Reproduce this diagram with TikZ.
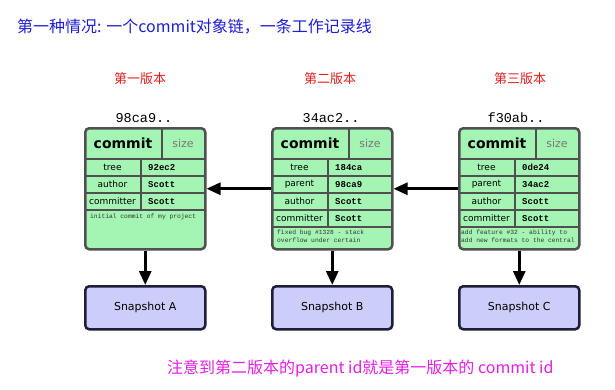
\documentclass[tikz,border=0pt]{standalone}
\usepackage{fontspec}
\newfontfamily\cjk{Noto Sans CJK SC}
\newfontfamily\dv{DejaVu Sans}
\newfontfamily\mono{Liberation Mono}
\usetikzlibrary{arrows.meta}
\definecolor{cgreen}{RGB}{164,245,180}
\definecolor{cborder}{RGB}{80,80,80}
\definecolor{sfill}{RGB}{205,205,250}
\definecolor{sborder}{RGB}{30,30,60}
\definecolor{tblue}{RGB}{30,30,215}
\definecolor{tred}{RGB}{225,30,30}
\definecolor{tmag}{RGB}{230,30,230}
\definecolor{sizegray}{RGB}{120,120,120}
\tikzset{
  commitbox/.style={draw=cborder, fill=cgreen, line width=2.5pt, rounded corners=4pt,
    minimum width=120pt, minimum height=121pt, anchor=north west, inner sep=0pt},
  inner/.style={draw=cborder, line width=1.5pt},
  ctitle/.style={font=\dv\bfseries\fontsize{14}{15}\selectfont, inner sep=0pt},
  csize/.style={font=\dv\fontsize{11}{12}\selectfont, text=sizegray, inner sep=0pt},
  fname/.style={font=\dv\fontsize{9}{10}\selectfont, inner sep=0pt},
  fval/.style={font=\mono\bfseries\fontsize{9}{10}\selectfont, anchor=west, inner sep=0pt},
  msg/.style={font=\mono\fontsize{6.3}{7}\selectfont, anchor=west, inner sep=0pt, text=black!80},
  snapbox/.style={draw=sborder, fill=sfill, line width=2.5pt, rounded corners=4pt,
    minimum width=120pt, minimum height=43pt, anchor=north west, inner sep=0pt},
  snaplabel/.style={font=\dv\fontsize{11}{12}\selectfont, inner sep=0pt},
  hashlabel/.style={font=\mono\fontsize{13.5}{14}\selectfont, inner sep=0pt},
  verlabel/.style={font=\cjk\fontsize{13}{14}\selectfont, text=tred, inner sep=0pt},
  arr/.style={line width=2.8pt, -{Triangle[length=14pt,width=12pt]}},
}
\begin{document}
\begin{tikzpicture}[x=1pt,y=-1pt]
\fill[white] (0,0) rectangle (615,389);
\useasboundingbox (0,0) rectangle (615,389);

% title
\node[font=\cjk\fontsize{16}{18}\selectfont, text=tblue, anchor=west, inner sep=0pt] (title) at (17,27) {第一种情况: 一个commit对象链，一条工作记录线};

% version labels
\node[verlabel] (v1) at (140,79) {第一版本};
\node[verlabel] (v2) at (330,79) {第二版本};
\node[verlabel] (v3) at (520,79) {第三版本};

% hashes
\node[hashlabel] (h1) at (144,118) {98ca9..};
\node[hashlabel] (h2) at (331,118) {34ac2..};
\node[hashlabel] (h3) at (516,118) {f30ab..};

% commit A
\begin{scope}[shift={(84,127)}]
\node[commitbox] (cA) at (0,0) {};
\draw[inner] (0,32) -- (120,32);
\draw[inner] (78,0) -- (78,32);
\draw[inner] (0,49) -- (120,49);
\draw[inner] (0,66) -- (120,66);
\draw[inner] (0,83) -- (120,83);
\draw[inner] (57,32) -- (57,83);
\node[ctitle] (cAt) at (39,16) {commit};
\node[csize] (cAs) at (99,16) {size};
\node[fname] (cAf1) at (28.5,40.5) {tree};
\node[fname] (cAf2) at (28.5,57.5) {author};
\node[fname] (cAf3) at (28.5,74.5) {committer};
\node[fval] (cAv1) at (64,40.5) {92ec2};
\node[fval] (cAv2) at (64,57.5) {Scott};
\node[fval] (cAv3) at (64,74.5) {Scott};
\node[msg] (cAm) at (6,90) {initial commit of my project};
\end{scope}

% commit B
\begin{scope}[shift={(271,127)}]
\node[commitbox] (cB) at (0,0) {};
\draw[inner] (0,32) -- (120,32);
\draw[inner] (78,0) -- (78,32);
\draw[inner] (0,49) -- (120,49);
\draw[inner] (0,66) -- (120,66);
\draw[inner] (0,83) -- (120,83);
\draw[inner] (0,100) -- (120,100);
\draw[inner] (57,32) -- (57,100);
\node[ctitle] (cBt) at (39,16) {commit};
\node[csize] (cBs) at (99,16) {size};
\node[fname] (cBf1) at (28.5,40.5) {tree};
\node[fname] (cBf2) at (28.5,57.5) {parent};
\node[fname] (cBf3) at (28.5,74.5) {author};
\node[fname] (cBf4) at (28.5,91.5) {committer};
\node[fval] (cBv1) at (64,40.5) {184ca};
\node[fval] (cBv2) at (64,57.5) {98ca9};
\node[fval] (cBv3) at (64,74.5) {Scott};
\node[fval] (cBv4) at (64,91.5) {Scott};
\node[msg] (cBm1) at (6,105.5) {fixed bug \#1328 - stack};
\node[msg] (cBm2) at (6,113.5) {overflow under certain};
\end{scope}

% commit C
\begin{scope}[shift={(458,127)}]
\node[commitbox] (cC) at (0,0) {};
\draw[inner] (0,32) -- (120,32);
\draw[inner] (78,0) -- (78,32);
\draw[inner] (0,49) -- (120,49);
\draw[inner] (0,66) -- (120,66);
\draw[inner] (0,83) -- (120,83);
\draw[inner] (0,100) -- (120,100);
\draw[inner] (57,32) -- (57,100);
\node[ctitle] (cCt) at (39,16) {commit};
\node[csize] (cCs) at (99,16) {size};
\node[fname] (cCf1) at (28.5,40.5) {tree};
\node[fname] (cCf2) at (28.5,57.5) {parent};
\node[fname] (cCf3) at (28.5,74.5) {author};
\node[fname] (cCf4) at (28.5,91.5) {committer};
\node[fval] (cCv1) at (64,40.5) {0de24};
\node[fval] (cCv2) at (64,57.5) {34ac2};
\node[fval] (cCv3) at (64,74.5) {Scott};
\node[fval] (cCv4) at (64,91.5) {Scott};
\node[msg] (cCm1) at (3,105.5) {add feature \#32 - ability to};
\node[msg] (cCm2) at (3,113.5) {add new formats to the central};
\end{scope}

% snapshots
\node[snapbox] (sA) at (84,285) {};
\node[snaplabel] (sAl) at (sA.center) {Snapshot A};
\node[snapbox] (sB) at (271,285) {};
\node[snaplabel] (sBl) at (sB.center) {Snapshot B};
\node[snapbox] (sC) at (458,285) {};
\node[snaplabel] (sCl) at (sC.center) {Snapshot C};

% arrows
\draw[arr] (cB.west) -- (cA.east);
\draw[arr] (cC.west) -- (cB.east);
\draw[arr] (cA.south) -- (sA.north);
\draw[arr] (cB.south) -- (sB.north);
\draw[arr] (cC.south) -- (sC.north);

% bottom note
\node[font=\cjk\fontsize{16}{18}\selectfont, text=tmag, anchor=west, inner sep=0pt] (note) at (167,369) {注意到第二版本的parent id就是第一版本的 commit id};
\end{tikzpicture}
\end{document}
